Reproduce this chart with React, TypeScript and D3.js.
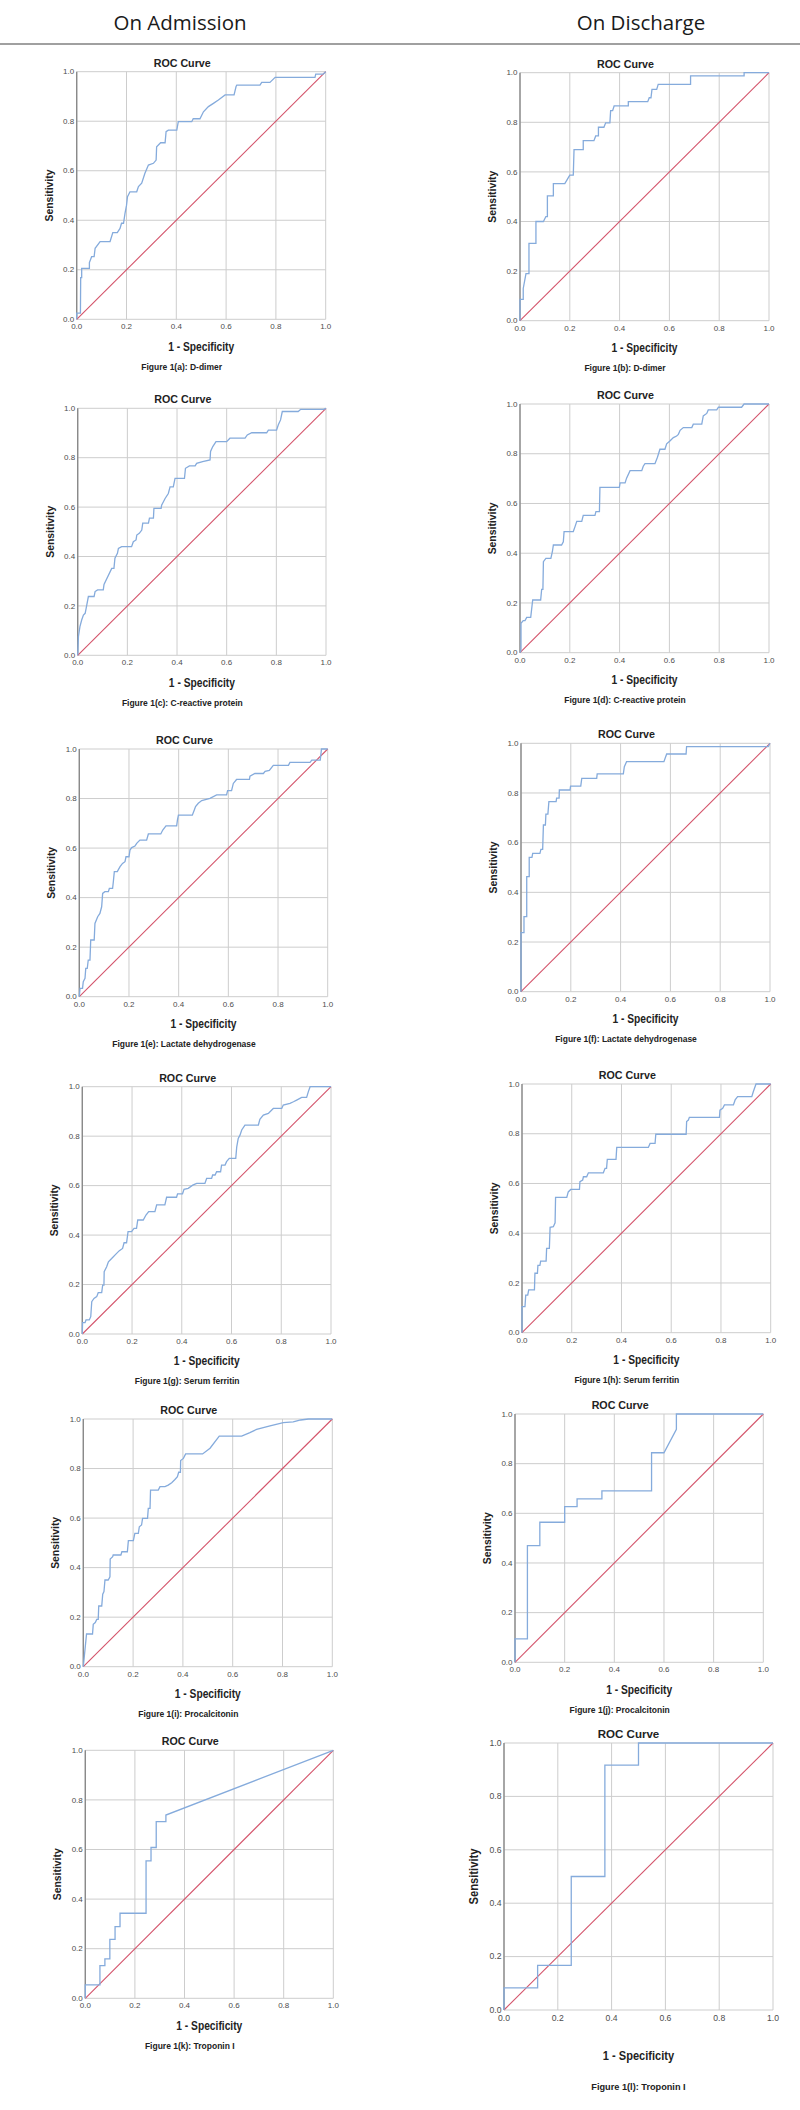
import React from "react";
import * as d3 from "d3";

type Pt = [number, number];

const HEADERS = ["On Admission", "On Discharge"];
const TICKS = [0, 0.2, 0.4, 0.6, 0.8, 1.0];
const TITLE = "ROC Curve";
const X_LABEL = "1 - Specificity";
const Y_LABEL = "Sensitivity";
const CAPTIONS = [
  "Figure 1(a): D-dimer",
  "Figure 1(b): D-dimer",
  "Figure 1(c): C-reactive protein",
  "Figure 1(d): C-reactive protein",
  "Figure 1(e): Lactate dehydrogenase",
  "Figure 1(f): Lactate dehydrogenase",
  "Figure 1(g): Serum ferritin",
  "Figure 1(h): Serum ferritin",
  "Figure 1(i): Procalcitonin",
  "Figure 1(j): Procalcitonin",
  "Figure 1(k): Troponin I",
  "Figure 1(l): Troponin I",
];

const rocDDimerAdmission: Pt[] = [[0,0],[0,0.025],[0.015,0.025],[0.016,0.168],[0.02,0.168],[0.02,0.206],[0.051,0.206],[0.051,0.229],[0.06,0.253],[0.07,0.253],[0.074,0.287],[0.094,0.314],[0.134,0.314],[0.145,0.35],[0.163,0.35],[0.174,0.367],[0.18,0.388],[0.188,0.388],[0.194,0.428],[0.2,0.46],[0.204,0.495],[0.214,0.515],[0.241,0.515],[0.248,0.536],[0.261,0.55],[0.274,0.59],[0.288,0.623],[0.308,0.63],[0.319,0.643],[0.321,0.697],[0.337,0.713],[0.355,0.713],[0.359,0.758],[0.368,0.764],[0.402,0.764],[0.408,0.798],[0.462,0.798],[0.468,0.81],[0.495,0.81],[0.509,0.838],[0.529,0.859],[0.549,0.872],[0.569,0.886],[0.596,0.906],[0.632,0.906],[0.64,0.94],[0.643,0.946],[0.736,0.946],[0.743,0.957],[0.776,0.957],[0.797,0.977],[0.957,0.977],[0.96,0.99],[0.99,0.99],[1,1]];

const rocDDimerDischarge: Pt[] = [[0,0],[0,0.086],[0.013,0.086],[0.013,0.13],[0.024,0.19],[0.036,0.19],[0.036,0.312],[0.064,0.312],[0.064,0.4],[0.094,0.4],[0.104,0.42],[0.11,0.42],[0.11,0.503],[0.134,0.503],[0.134,0.553],[0.18,0.553],[0.19,0.57],[0.2,0.587],[0.214,0.587],[0.217,0.69],[0.254,0.69],[0.254,0.726],[0.297,0.726],[0.304,0.745],[0.315,0.745],[0.315,0.78],[0.337,0.78],[0.344,0.798],[0.361,0.798],[0.364,0.847],[0.372,0.847],[0.378,0.866],[0.435,0.866],[0.435,0.883],[0.513,0.883],[0.519,0.899],[0.526,0.899],[0.53,0.933],[0.549,0.933],[0.555,0.953],[0.685,0.953],[0.685,0.987],[0.9,0.987],[0.9,1],[1,1]];

const rocCrpAdmission: Pt[] = [[0,0],[0.003,0.076],[0.009,0.116],[0.016,0.143],[0.023,0.163],[0.03,0.17],[0.034,0.19],[0.043,0.238],[0.066,0.238],[0.07,0.258],[0.08,0.265],[0.103,0.265],[0.106,0.287],[0.137,0.352],[0.146,0.352],[0.15,0.393],[0.16,0.413],[0.164,0.433],[0.177,0.44],[0.217,0.44],[0.224,0.46],[0.235,0.467],[0.238,0.487],[0.248,0.494],[0.258,0.507],[0.262,0.535],[0.285,0.535],[0.289,0.555],[0.305,0.555],[0.307,0.595],[0.336,0.595],[0.338,0.608],[0.352,0.635],[0.365,0.655],[0.372,0.682],[0.385,0.682],[0.392,0.716],[0.43,0.716],[0.434,0.757],[0.45,0.767],[0.473,0.767],[0.479,0.777],[0.503,0.784],[0.533,0.791],[0.535,0.825],[0.544,0.845],[0.557,0.865],[0.6,0.865],[0.613,0.879],[0.674,0.879],[0.683,0.892],[0.701,0.901],[0.761,0.901],[0.768,0.912],[0.801,0.912],[0.808,0.933],[0.817,0.953],[0.824,0.987],[0.888,0.987],[0.898,0.996],[0.99,0.996],[1,1]];

const rocCrpDischarge: Pt[] = [[0,0],[0.004,0.01],[0.004,0.118],[0.013,0.129],[0.02,0.129],[0.027,0.142],[0.043,0.142],[0.051,0.212],[0.083,0.212],[0.087,0.255],[0.092,0.255],[0.094,0.366],[0.104,0.379],[0.124,0.379],[0.13,0.406],[0.134,0.433],[0.167,0.433],[0.174,0.446],[0.177,0.487],[0.214,0.487],[0.221,0.507],[0.228,0.528],[0.248,0.528],[0.254,0.552],[0.301,0.552],[0.305,0.567],[0.319,0.567],[0.321,0.665],[0.399,0.665],[0.402,0.683],[0.422,0.683],[0.428,0.702],[0.442,0.732],[0.489,0.732],[0.495,0.75],[0.502,0.76],[0.542,0.76],[0.552,0.786],[0.562,0.818],[0.582,0.818],[0.589,0.84],[0.602,0.851],[0.616,0.865],[0.629,0.871],[0.636,0.878],[0.643,0.894],[0.656,0.905],[0.69,0.905],[0.696,0.919],[0.73,0.919],[0.736,0.952],[0.75,0.962],[0.756,0.976],[0.79,0.976],[0.797,0.987],[0.89,0.987],[0.9,1],[1,1]];

const rocLdhAdmission: Pt[] = [[0,0],[0.003,0.034],[0.013,0.034],[0.016,0.061],[0.023,0.074],[0.026,0.114],[0.032,0.114],[0.036,0.148],[0.043,0.148],[0.046,0.229],[0.06,0.229],[0.063,0.296],[0.074,0.323],[0.083,0.336],[0.09,0.363],[0.094,0.417],[0.103,0.424],[0.117,0.424],[0.121,0.437],[0.134,0.437],[0.137,0.464],[0.141,0.505],[0.153,0.505],[0.164,0.525],[0.174,0.538],[0.184,0.545],[0.188,0.565],[0.2,0.565],[0.204,0.592],[0.211,0.602],[0.224,0.608],[0.231,0.619],[0.244,0.632],[0.271,0.632],[0.278,0.657],[0.328,0.657],[0.336,0.673],[0.349,0.69],[0.392,0.69],[0.395,0.713],[0.399,0.733],[0.455,0.733],[0.463,0.754],[0.468,0.768],[0.479,0.781],[0.493,0.792],[0.526,0.801],[0.553,0.815],[0.593,0.815],[0.597,0.832],[0.613,0.832],[0.62,0.861],[0.633,0.877],[0.685,0.877],[0.687,0.89],[0.707,0.901],[0.741,0.901],[0.748,0.91],[0.765,0.914],[0.781,0.934],[0.842,0.934],[0.848,0.946],[0.929,0.946],[0.936,0.955],[0.97,0.955],[0.975,1],[1,1]];

const rocLdhDischarge: Pt[] = [[0,0],[0,0.238],[0.012,0.238],[0.012,0.302],[0.023,0.302],[0.023,0.463],[0.033,0.463],[0.033,0.541],[0.044,0.541],[0.047,0.557],[0.076,0.557],[0.08,0.573],[0.087,0.573],[0.09,0.671],[0.098,0.671],[0.1,0.715],[0.108,0.715],[0.112,0.765],[0.141,0.765],[0.143,0.779],[0.153,0.779],[0.154,0.812],[0.197,0.812],[0.199,0.828],[0.24,0.828],[0.244,0.859],[0.304,0.859],[0.306,0.877],[0.411,0.877],[0.415,0.906],[0.424,0.926],[0.574,0.926],[0.585,0.957],[0.663,0.957],[0.665,0.987],[0.993,0.987],[1,1]];

const rocFerritinAdmission: Pt[] = [[0,0],[0.001,0.046],[0.011,0.046],[0.015,0.057],[0.028,0.057],[0.034,0.07],[0.038,0.131],[0.047,0.144],[0.058,0.151],[0.064,0.167],[0.078,0.167],[0.082,0.198],[0.087,0.198],[0.088,0.252],[0.098,0.272],[0.105,0.292],[0.118,0.305],[0.138,0.326],[0.149,0.337],[0.162,0.346],[0.168,0.369],[0.178,0.369],[0.184,0.414],[0.198,0.414],[0.208,0.427],[0.218,0.427],[0.223,0.461],[0.245,0.461],[0.256,0.481],[0.267,0.495],[0.292,0.495],[0.299,0.522],[0.332,0.522],[0.339,0.553],[0.379,0.553],[0.383,0.567],[0.403,0.567],[0.409,0.585],[0.426,0.589],[0.444,0.602],[0.46,0.609],[0.493,0.609],[0.5,0.629],[0.52,0.629],[0.524,0.643],[0.534,0.643],[0.54,0.656],[0.556,0.656],[0.56,0.683],[0.574,0.683],[0.58,0.697],[0.591,0.71],[0.617,0.71],[0.621,0.757],[0.627,0.791],[0.634,0.804],[0.641,0.825],[0.654,0.845],[0.708,0.845],[0.714,0.868],[0.728,0.885],[0.748,0.892],[0.768,0.912],[0.802,0.912],[0.808,0.926],[0.835,0.933],[0.849,0.939],[0.862,0.946],[0.882,0.957],[0.902,0.957],[0.909,0.98],[0.916,1],[1,1]];

const rocFerritinDischarge: Pt[] = [[0,0],[0,0.105],[0.012,0.105],[0.015,0.151],[0.023,0.151],[0.027,0.172],[0.05,0.172],[0.052,0.239],[0.062,0.239],[0.064,0.271],[0.072,0.271],[0.075,0.288],[0.097,0.288],[0.099,0.339],[0.11,0.339],[0.113,0.424],[0.126,0.426],[0.133,0.442],[0.135,0.544],[0.18,0.544],[0.186,0.566],[0.196,0.576],[0.231,0.576],[0.233,0.607],[0.244,0.614],[0.247,0.627],[0.26,0.627],[0.267,0.643],[0.327,0.643],[0.334,0.661],[0.34,0.661],[0.343,0.697],[0.378,0.697],[0.381,0.745],[0.508,0.745],[0.515,0.761],[0.535,0.761],[0.538,0.798],[0.66,0.798],[0.662,0.849],[0.669,0.855],[0.673,0.866],[0.794,0.866],[0.796,0.895],[0.807,0.902],[0.814,0.916],[0.85,0.916],[0.857,0.936],[0.867,0.949],[0.924,0.949],[0.93,0.969],[0.937,0.989],[0.941,1],[1,1]];

const rocPctAdmission: Pt[] = [[0,0],[0.013,0.132],[0.037,0.132],[0.04,0.171],[0.048,0.178],[0.054,0.191],[0.06,0.191],[0.062,0.245],[0.074,0.245],[0.078,0.293],[0.083,0.303],[0.087,0.35],[0.1,0.35],[0.107,0.363],[0.108,0.435],[0.118,0.444],[0.12,0.451],[0.151,0.451],[0.155,0.464],[0.177,0.464],[0.181,0.509],[0.201,0.509],[0.207,0.538],[0.221,0.538],[0.225,0.565],[0.234,0.572],[0.238,0.599],[0.258,0.599],[0.261,0.639],[0.268,0.639],[0.27,0.713],[0.301,0.713],[0.308,0.727],[0.328,0.727],[0.341,0.733],[0.355,0.743],[0.368,0.756],[0.378,0.767],[0.383,0.785],[0.39,0.785],[0.391,0.832],[0.402,0.841],[0.411,0.859],[0.479,0.859],[0.509,0.882],[0.546,0.931],[0.636,0.931],[0.669,0.945],[0.696,0.958],[0.75,0.972],[0.803,0.985],[0.843,0.988],[0.873,0.996],[0.904,1],[1,1]];

const rocPctDischarge: Pt[] = [[0,0],[0,0.094],[0.05,0.094],[0.05,0.47],[0.1,0.47],[0.1,0.564],[0.2,0.564],[0.2,0.627],[0.25,0.627],[0.25,0.658],[0.35,0.658],[0.35,0.69],[0.55,0.69],[0.55,0.844],[0.6,0.844],[0.65,0.938],[0.65,1],[1,1]];

const rocTropAdmission: Pt[] = [[0,0],[0,0.054],[0.059,0.054],[0.059,0.132],[0.079,0.132],[0.079,0.159],[0.099,0.159],[0.099,0.238],[0.12,0.238],[0.12,0.289],[0.14,0.289],[0.14,0.343],[0.245,0.343],[0.245,0.554],[0.265,0.554],[0.265,0.608],[0.286,0.608],[0.286,0.712],[0.325,0.712],[0.325,0.739],[1,1]];

const rocTropDischarge: Pt[] = [[0,0],[0,0.083],[0.125,0.083],[0.125,0.167],[0.25,0.167],[0.25,0.5],[0.375,0.5],[0.375,0.917],[0.5,0.917],[0.5,1],[1,1]];

const SERIES: Pt[][] = [
  rocDDimerAdmission, rocDDimerDischarge,
  rocCrpAdmission, rocCrpDischarge,
  rocLdhAdmission, rocLdhDischarge,
  rocFerritinAdmission, rocFerritinDischarge,
  rocPctAdmission, rocPctDischarge,
  rocTropAdmission, rocTropDischarge,
];

// Plot boxes (pixel layout): left, right, top, bottom
const BOXES = [
  [76.7, 325.7, 71.7, 319.3],
  [520, 769, 72.7, 320.7],
  [77.7, 326, 408.3, 655.3],
  [520, 769, 404, 652.7],
  [79.3, 327.7, 749, 996.7],
  [521, 770, 743.3, 991.7],
  [82.3, 331, 1086.7, 1334],
  [522, 770.7, 1084, 1332.7],
  [83.3, 332.3, 1419, 1666.7],
  [515, 763.3, 1414, 1662.3],
  [85.3, 333.3, 1750.3, 1998.3],
  [504, 773, 1743, 2010],
];

// Text layout per panel: [scale, titleShift, xLabelGap, captionGap, captionShift, tickGap]
const TEXT_LAYOUT = [
  [1, -19, 27, 47.5, -19.5, 10],
  [1, -19, 27, 47.5, -19.5, 10],
  [1, -19, 27, 47.5, -19.5, 10],
  [1, -19, 27, 47.5, -19.5, 10],
  [1, -19, 27, 47.5, -19.5, 10],
  [1, -19, 27, 47.5, -19.5, 10],
  [1, -19, 27, 47.5, -19.5, 10],
  [1, -19, 27, 47.5, -19.5, 10],
  [1, -19, 27, 47.5, -19.5, 10],
  [1, -19, 27, 47.5, -19.5, 10],
  [1, -19, 27, 47.5, -19.5, 10],
  [1.08, -10, 45, 77, 0, 11],
];

const FONT = "'Liberation Sans', Arial, sans-serif";
const fmt = d3.format(".1f");

function Panel({ data, caption, box, tl }: { data: Pt[]; caption: string; box: number[]; tl: number[] }) {
  const [x0, x1, yT, yB] = box;
  const [s, titleShift, xLabelGap, captionGap, captionShift, tickGap] = tl;
  const x = d3.scaleLinear().domain([0, 1]).range([x0, x1]);
  const y = d3.scaleLinear().domain([0, 1]).range([yB, yT]);
  const line = d3.line<Pt>().x((d) => x(d[0])).y((d) => y(d[1]));
  const cx = (x0 + x1) / 2;
  const cy = (yT + yB) / 2;
  return (
    <g>
      {TICKS.map((t) => (
        <line key={"v" + t} x1={x(t)} x2={x(t)} y1={yT} y2={yB} stroke="#cdcdcd" strokeWidth={1} />
      ))}
      {TICKS.map((t) => (
        <line key={"h" + t} x1={x0} x2={x1} y1={y(t)} y2={y(t)} stroke="#cdcdcd" strokeWidth={1} />
      ))}
      <line x1={x0} x2={x0} y1={yT} y2={yB} stroke="#8a8a8a" strokeWidth={1.4} />
      {TICKS.map((t) => (
        <text key={"yt" + t} x={x0 - 2.5} y={y(t)} dy="0.33em" textAnchor="end" fontSize={8 * s} fill="#4d4d4d" fontFamily={FONT}>
          {fmt(t)}
        </text>
      ))}
      {TICKS.map((t) => (
        <text key={"xt" + t} x={x(t)} y={yB + tickGap} textAnchor="middle" fontSize={8 * s} fill="#4d4d4d" fontFamily={FONT}>
          {fmt(t)}
        </text>
      ))}
      <path d={line([[0, 0], [1, 1]]) || ""} fill="none" stroke="#d4546b" strokeWidth={1.1} />
      <path d={line(data) || ""} fill="none" stroke="#85abdc" strokeWidth={1.3} />
      <text x={cx + titleShift} y={yT - 8.7 * s} dy="0.35em" textAnchor="middle" fontSize={10.7 * s} fontWeight="bold" fill="#222" fontFamily={FONT}>
        {TITLE}
      </text>
      <text x={cx} y={yB + xLabelGap} dy="0.35em" textAnchor="middle" fontSize={12 * s} fontWeight="bold" fill="#222" fontFamily={FONT} textLength={66 * s} lengthAdjust="spacingAndGlyphs">
        {X_LABEL}
      </text>
      <text transform={`translate(${x0 - 28 * s},${cy}) rotate(-90)`} dy="0.35em" textAnchor="middle" fontSize={11.5 * s} fontWeight="bold" fill="#222" fontFamily={FONT} textLength={52 * s} lengthAdjust="spacingAndGlyphs">
        {Y_LABEL}
      </text>
      <text x={cx + captionShift} y={yB + captionGap} dy="0.35em" textAnchor="middle" fontSize={8.5 * s} fontWeight="bold" fill="#222" fontFamily={FONT}>
        {caption}
      </text>
    </g>
  );
}

export default function App() {
  return (
    <svg width={800} height={2110} style={{ position: "absolute", left: 0, top: 0, background: "#fff" }}>
      <rect x={0} y={0} width={800} height={2110} fill="#fff" />
      <text x={180} y={23} dy="0.35em" textAnchor="middle" fontSize={20.5} fill="#1a1a1a" fontFamily="'Open Sans', sans-serif">
        {HEADERS[0]}
      </text>
      <text x={641} y={23} dy="0.35em" textAnchor="middle" fontSize={20.5} fill="#1a1a1a" fontFamily="'Open Sans', sans-serif">
        {HEADERS[1]}
      </text>
      <line x1={0} x2={800} y1={44} y2={44} stroke="#a0a0a0" strokeWidth={2} />
      {SERIES.map((s, i) => (
        <Panel key={i} data={s} caption={CAPTIONS[i]} box={BOXES[i]} tl={TEXT_LAYOUT[i]} />
      ))}
    </svg>
  );
}
